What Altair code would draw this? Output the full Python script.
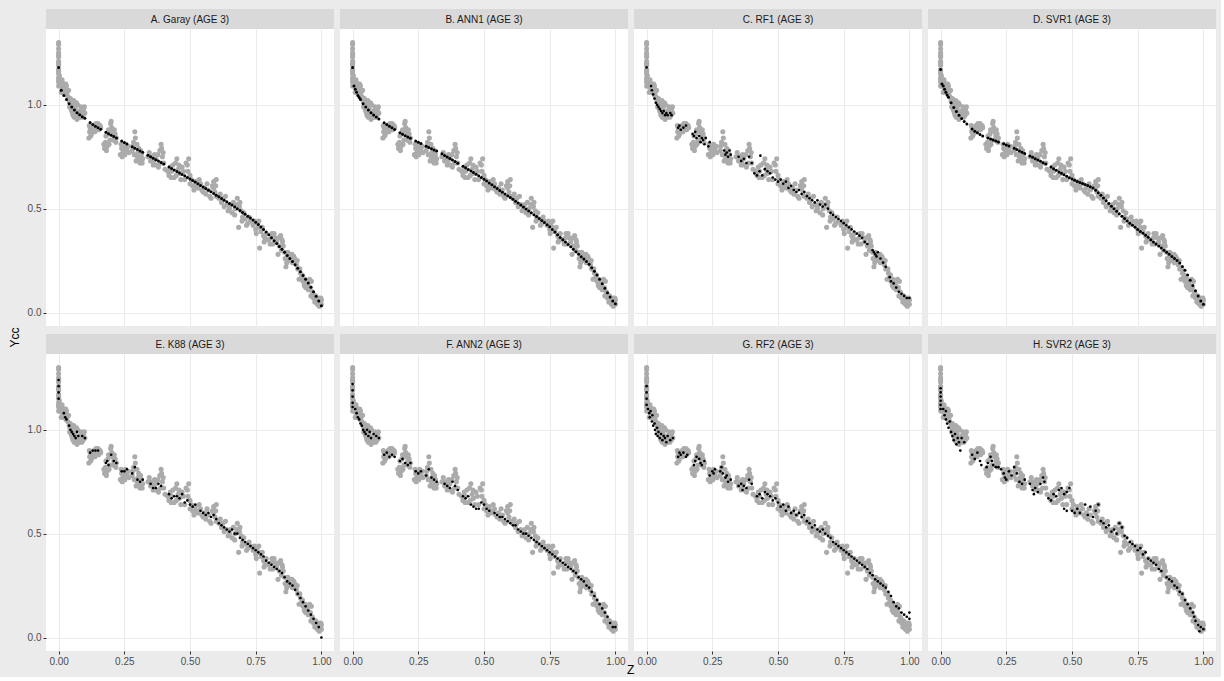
import altair as alt
import pandas as pd

PANELS = ["A. Garay (AGE 3)", "B. ANN1 (AGE 3)", "C. RF1 (AGE 3)", "D. SVR1 (AGE 3)",
          "E. K88 (AGE 3)", "F. ANN2 (AGE 3)", "G. RF2 (AGE 3)", "H. SVR2 (AGE 3)"]

# observed values (grey points, same in every panel)
obs_z = [0, 0, 0, 0, 0, 0, 0, 0, 0, 0, 0,
         0.005, 0.008, 0.012, 0.015, 0.018, 0.022, 0.025, 0.028, 0.03, 0.035,
         0.04, 0.042, 0.045, 0.05, 0.052, 0.055, 0.058, 0.06, 0.063, 0.066, 0.07, 0.072, 0.075, 0.08, 0.085, 0.09, 0.095, 0.10,
         0.115, 0.118, 0.12, 0.125, 0.13, 0.135, 0.14, 0.145, 0.15, 0.16,
         0.175, 0.178, 0.18, 0.185, 0.19, 0.195, 0.198, 0.20, 0.205, 0.21, 0.215, 0.22,
         0.235, 0.24, 0.245, 0.25, 0.255, 0.26, 0.265,
         0.28, 0.285, 0.29, 0.292, 0.295, 0.30, 0.305, 0.31, 0.315, 0.32,
         0.34, 0.35, 0.36, 0.365, 0.37, 0.38, 0.385, 0.39, 0.395, 0.40, 0.405,
         0.42, 0.425, 0.43, 0.44, 0.445, 0.45, 0.455, 0.46, 0.47, 0.48, 0.49, 0.495, 0.50, 0.50,
         0.51, 0.52, 0.53, 0.54, 0.55, 0.555, 0.56, 0.57, 0.58, 0.585, 0.59, 0.595, 0.60, 0.60,
         0.61, 0.62, 0.63, 0.635, 0.64, 0.65, 0.66, 0.665, 0.67, 0.68, 0.685, 0.69, 0.695, 0.70,
         0.71, 0.72, 0.73, 0.74, 0.75, 0.755, 0.76, 0.765, 0.77, 0.78, 0.785, 0.79, 0.80,
         0.81, 0.815, 0.82, 0.83, 0.835, 0.84, 0.845, 0.85, 0.855,
         0.86, 0.865, 0.87, 0.875, 0.88, 0.885, 0.89, 0.895, 0.90, 0.905, 0.91,
         0.915, 0.92, 0.925, 0.93, 0.935, 0.94, 0.945, 0.95, 0.955, 0.96, 0.965, 0.97, 0.975, 0.98, 0.985, 0.99, 0.995, 1.0, 1.0,
         0, 0, 0, 0, 0,
         0.003, 0.007, 0.01, 0.013, 0.02, 0.027, 0.032, 0.038,
         0.043, 0.048, 0.053, 0.062, 0.068, 0.078, 0.083, 0.088, 0.093, 0.098,
         0.117, 0.122, 0.128, 0.138, 0.142, 0.152, 0.158,
         0.172, 0.182, 0.188, 0.192, 0.202, 0.208, 0.212, 0.218,
         0.238, 0.242, 0.248, 0.252, 0.258, 0.268,
         0.282, 0.288, 0.298, 0.302, 0.308, 0.312, 0.318,
         0.345, 0.355, 0.362, 0.372, 0.378, 0.388, 0.392, 0.398,
         0.415, 0.428, 0.435, 0.448, 0.458, 0.465, 0.475, 0.485, 0.492, 0.505,
         0.515, 0.525, 0.535, 0.545, 0.565, 0.575, 0.59, 0.598,
         0.615, 0.625, 0.645, 0.655, 0.672, 0.678, 0.688, 0.698,
         0.705, 0.715, 0.725, 0.745, 0.752, 0.762, 0.775, 0.782, 0.795,
         0.805, 0.812, 0.825, 0.838, 0.848, 0.852,
         0.862, 0.868, 0.872, 0.878, 0.882, 0.888, 0.898, 0.908, 0.918,
         0.928, 0.938, 0.948, 0.958, 0.962, 0.968, 0.978, 0.988, 0.992, 0.998]
obs_y = [1.30, 1.27, 1.25, 1.23, 1.21, 1.19, 1.17, 1.15, 1.13, 1.11, 1.09,
         1.12, 1.09, 1.11, 1.08, 1.06, 1.10, 1.07, 1.05, 1.09, 1.04,
         1.02, 0.99, 1.03, 0.97, 1.00, 0.95, 1.02, 0.94, 0.98, 0.96, 0.93, 1.00, 0.95, 0.97, 0.99, 0.96, 0.98, 0.96,
         0.84, 0.87, 0.89, 0.86, 0.88, 0.90, 0.88, 0.89, 0.91, 0.89,
         0.79, 0.82, 0.85, 0.80, 0.88, 0.83, 0.91, 0.92, 0.87, 0.85, 0.86, 0.84,
         0.76, 0.79, 0.77, 0.80, 0.81, 0.78, 0.80,
         0.78, 0.82, 0.87, 0.84, 0.73, 0.75, 0.79, 0.72, 0.76, 0.74,
         0.75, 0.73, 0.71, 0.76, 0.74, 0.70, 0.78, 0.81, 0.75, 0.72, 0.69,
         0.66, 0.70, 0.68, 0.65, 0.72, 0.74, 0.69, 0.67, 0.70, 0.64, 0.71, 0.74, 0.66, 0.62,
         0.61, 0.63, 0.60, 0.62, 0.58, 0.60, 0.57, 0.59, 0.55, 0.61, 0.63, 0.58, 0.64, 0.56,
         0.55, 0.53, 0.51, 0.56, 0.52, 0.50, 0.48, 0.53, 0.47, 0.55, 0.41, 0.53, 0.49, 0.46,
         0.45, 0.43, 0.44, 0.42, 0.40, 0.43, 0.41, 0.31, 0.39, 0.37, 0.36, 0.38, 0.35,
         0.36, 0.33, 0.38, 0.34, 0.28, 0.32, 0.37, 0.35, 0.32,
         0.29, 0.22, 0.27, 0.25, 0.28, 0.26, 0.24, 0.27, 0.25, 0.23, 0.21,
         0.16, 0.19, 0.17, 0.15, 0.13, 0.12, 0.14, 0.11, 0.16, 0.08, 0.10, 0.07, 0.05, 0.06, 0.04, 0.07, 0.05, 0.06, 0.04,
         1.29, 1.24, 1.20, 1.16, 1.12,
         1.14, 1.10, 1.06, 1.12, 1.08, 1.10, 1.06, 1.07,
         1.01, 0.98, 0.96, 0.99, 1.01, 0.94, 0.96, 0.94, 0.95, 0.99,
         0.90, 0.85, 0.89, 0.87, 0.91, 0.88, 0.90,
         0.81, 0.78, 0.86, 0.81, 0.89, 0.83, 0.88, 0.82,
         0.81, 0.75, 0.78, 0.76, 0.79, 0.77,
         0.80, 0.76, 0.81, 0.77, 0.74, 0.78, 0.72,
         0.77, 0.75, 0.73, 0.71, 0.76, 0.72, 0.79, 0.77,
         0.68, 0.65, 0.71, 0.66, 0.71, 0.64, 0.68, 0.72, 0.68, 0.64,
         0.59, 0.61, 0.64, 0.59, 0.62, 0.56, 0.60, 0.61,
         0.57, 0.55, 0.49, 0.52, 0.50, 0.52, 0.51, 0.44,
         0.48, 0.42, 0.46, 0.44, 0.38, 0.44, 0.41, 0.34, 0.35,
         0.33, 0.38, 0.36, 0.36, 0.30, 0.34,
         0.26, 0.24, 0.29, 0.27, 0.25, 0.28, 0.26, 0.25, 0.21,
         0.18, 0.16, 0.13, 0.12, 0.15, 0.09, 0.08, 0.05, 0.03, 0.07]

# model predictions (black points)
garay_z = [0, 0.01, 0.02, 0.03, 0.04, 0.05, 0.06, 0.07, 0.08, 0.09, 0.10, 0.12, 0.13, 0.14, 0.15, 0.16, 0.18, 0.19, 0.20, 0.21, 0.22,
           0.24, 0.25, 0.26, 0.28, 0.29, 0.30, 0.31, 0.32, 0.34, 0.35, 0.36, 0.37, 0.38, 0.39, 0.40, 0.42, 0.43, 0.44, 0.45, 0.46,
           0.47, 0.48, 0.49, 0.50, 0.51, 0.52, 0.53, 0.54, 0.55, 0.56, 0.57, 0.58, 0.59, 0.60, 0.61, 0.62, 0.63, 0.64, 0.65, 0.66,
           0.67, 0.68, 0.69, 0.70, 0.71, 0.72, 0.73, 0.74, 0.75, 0.76, 0.77, 0.78, 0.79, 0.80, 0.81, 0.82, 0.83, 0.84, 0.85, 0.86,
           0.87, 0.88, 0.89, 0.90, 0.91, 0.92, 0.93, 0.94, 0.95, 0.96, 0.97, 0.98, 0.99, 1.0]
garay_y = [1.18, 1.07, 1.045, 1.025, 1.005, 0.99, 0.975, 0.962, 0.952, 0.943, 0.935, 0.915, 0.905, 0.897, 0.89, 0.882, 0.868, 0.861, 0.854, 0.847, 0.84,
           0.826, 0.818, 0.811, 0.798, 0.791, 0.785, 0.778, 0.771, 0.757, 0.75, 0.743, 0.736, 0.729, 0.722, 0.715, 0.70, 0.693, 0.686, 0.679, 0.672,
           0.665, 0.658, 0.65, 0.643, 0.635, 0.628, 0.62, 0.612, 0.604, 0.597, 0.589, 0.581, 0.573, 0.565, 0.557, 0.549, 0.541, 0.533, 0.525, 0.517,
           0.509, 0.50, 0.491, 0.482, 0.473, 0.464, 0.455, 0.445, 0.435, 0.424, 0.412, 0.40, 0.387, 0.374, 0.36, 0.346, 0.332, 0.318, 0.304, 0.29,
           0.275, 0.26, 0.245, 0.23, 0.213, 0.196, 0.178, 0.16, 0.142, 0.122, 0.10, 0.078, 0.055, 0.032]

ann1_z = [0, 0.005, 0.01, 0.015, 0.02, 0.025, 0.03, 0.04, 0.05, 0.06, 0.07, 0.08, 0.09, 0.10, 0.12, 0.13, 0.14, 0.15, 0.16, 0.18, 0.19,
          0.20, 0.21, 0.22, 0.24, 0.25, 0.26, 0.28, 0.29, 0.30, 0.31, 0.32, 0.34, 0.35, 0.36, 0.37, 0.38, 0.39, 0.40, 0.42, 0.43,
          0.44, 0.45, 0.46, 0.47, 0.48, 0.49, 0.50, 0.51, 0.52, 0.53, 0.54, 0.55, 0.56, 0.57, 0.58, 0.59, 0.60, 0.61, 0.62, 0.63,
          0.64, 0.65, 0.66, 0.67, 0.68, 0.69, 0.70, 0.71, 0.72, 0.73, 0.74, 0.75, 0.76, 0.77, 0.78, 0.79, 0.80, 0.81, 0.82, 0.83,
          0.84, 0.85, 0.86, 0.87, 0.88, 0.89, 0.90, 0.91, 0.92, 0.93, 0.94, 0.95, 0.96, 0.97, 0.98, 0.99, 1.0]
ann1_y = [1.18, 1.09, 1.075, 1.06, 1.045, 1.035, 1.025, 1.005, 0.99, 0.975, 0.962, 0.951, 0.941, 0.932, 0.914, 0.905, 0.897, 0.889, 0.881, 0.866, 0.858,
          0.851, 0.845, 0.839, 0.826, 0.82, 0.814, 0.801, 0.795, 0.789, 0.783, 0.777, 0.764, 0.756, 0.749, 0.742, 0.734, 0.727, 0.719, 0.704, 0.697,
          0.689, 0.681, 0.674, 0.666, 0.658, 0.65, 0.641, 0.633, 0.624, 0.615, 0.606, 0.597, 0.588, 0.579, 0.57, 0.562, 0.554, 0.545, 0.536, 0.527,
          0.517, 0.508, 0.498, 0.489, 0.48, 0.471, 0.462, 0.452, 0.443, 0.433, 0.423, 0.413, 0.40, 0.387, 0.374, 0.361, 0.35, 0.339, 0.328, 0.316,
          0.304, 0.293, 0.281, 0.269, 0.258, 0.245, 0.232, 0.216, 0.199, 0.18, 0.16, 0.139, 0.117, 0.095, 0.075, 0.055, 0.042]

rf1_z = [0, 0.017, 0.02, 0.025, 0.03, 0.035, 0.04, 0.045, 0.05, 0.055, 0.06, 0.065, 0.07, 0.075, 0.08, 0.09, 0.095,
         0.12, 0.125, 0.13, 0.14, 0.15,
         0.175, 0.18, 0.185, 0.19, 0.20, 0.205, 0.21, 0.215, 0.22, 0.225, 0.235, 0.24,
         0.295, 0.30, 0.305, 0.31, 0.315, 0.32,
         0.35, 0.36, 0.37, 0.38, 0.39, 0.40, 0.433,
         0.41, 0.42, 0.43, 0.44, 0.45, 0.46, 0.47,
         0.48, 0.49, 0.50, 0.51, 0.52, 0.53,
         0.54, 0.55, 0.56, 0.57, 0.58, 0.59, 0.60, 0.61,
         0.62, 0.63, 0.64, 0.65, 0.66, 0.67, 0.68, 0.69,
         0.70, 0.71, 0.72, 0.73, 0.74, 0.75, 0.76, 0.77, 0.78, 0.79,
         0.80, 0.81, 0.82, 0.83, 0.84,
         0.86, 0.865, 0.87, 0.875, 0.88, 0.89, 0.90, 0.91,
         0.925, 0.93, 0.94, 0.95, 0.96, 0.97, 0.98, 0.99, 1.0]
rf1_y = [1.18, 1.09, 1.07, 1.05, 1.03, 1.01, 1.00, 0.99, 0.98, 0.97, 0.96, 0.97, 0.95, 0.96, 0.95, 0.96, 0.95,
         0.89, 0.90, 0.88, 0.89, 0.90,
         0.86, 0.85, 0.87, 0.84, 0.85, 0.82, 0.84, 0.83, 0.81, 0.84, 0.80, 0.82,
         0.78, 0.76, 0.77, 0.75, 0.78, 0.76,
         0.75, 0.73, 0.74, 0.72, 0.75, 0.72, 0.755,
         0.67, 0.66, 0.68, 0.66, 0.69, 0.68, 0.67,
         0.65, 0.64, 0.63, 0.64, 0.62, 0.63,
         0.60, 0.61, 0.59, 0.58, 0.59, 0.57, 0.58, 0.56,
         0.55, 0.54, 0.53, 0.54, 0.52, 0.51, 0.52, 0.50,
         0.48, 0.47, 0.46, 0.45, 0.44, 0.43, 0.42, 0.41, 0.40, 0.39,
         0.38, 0.37, 0.36, 0.34, 0.33,
         0.30, 0.29, 0.28, 0.27, 0.29, 0.26, 0.24, 0.22,
         0.17, 0.15, 0.14, 0.12, 0.10, 0.09, 0.08, 0.07, 0.07]

svr1_z = [0, 0.005, 0.01, 0.015, 0.02, 0.025, 0.03, 0.04, 0.05, 0.06, 0.07, 0.08, 0.09, 0.10, 0.12, 0.13, 0.14, 0.15, 0.16, 0.18, 0.19,
          0.20, 0.21, 0.22, 0.24, 0.25, 0.26, 0.28, 0.29, 0.30, 0.31, 0.32, 0.34, 0.35, 0.36, 0.37, 0.38, 0.39, 0.40, 0.42, 0.43,
          0.44, 0.45, 0.46, 0.47, 0.48, 0.49, 0.50, 0.51, 0.52, 0.53, 0.54, 0.55, 0.56, 0.57, 0.58, 0.59, 0.60, 0.61, 0.62, 0.63,
          0.64, 0.65, 0.66, 0.67, 0.68, 0.69, 0.70, 0.71, 0.72, 0.73, 0.74, 0.75, 0.76, 0.77, 0.78, 0.79, 0.80, 0.81, 0.82, 0.83,
          0.84, 0.85, 0.86, 0.87, 0.88, 0.89, 0.90, 0.91, 0.92, 0.93, 0.94, 0.95, 0.96, 0.97, 0.98, 0.99, 1.0]
svr1_y = [1.17, 1.10, 1.09, 1.075, 1.06, 1.047, 1.036, 1.01, 0.987, 0.968, 0.95, 0.934, 0.92, 0.907, 0.883, 0.873, 0.865, 0.857, 0.85, 0.84, 0.835,
          0.83, 0.826, 0.821, 0.812, 0.807, 0.802, 0.791, 0.785, 0.778, 0.771, 0.765, 0.753, 0.747, 0.74, 0.734, 0.728, 0.721, 0.715, 0.70, 0.692,
          0.685, 0.677, 0.67, 0.663, 0.656, 0.649, 0.643, 0.637, 0.631, 0.626, 0.621, 0.616, 0.611, 0.606, 0.60, 0.589, 0.577, 0.564, 0.551, 0.538,
          0.525, 0.512, 0.50, 0.488, 0.476, 0.464, 0.452, 0.441, 0.43, 0.42, 0.41, 0.40, 0.39, 0.381, 0.372, 0.362, 0.35, 0.34, 0.33, 0.32,
          0.31, 0.30, 0.29, 0.28, 0.27, 0.26, 0.25, 0.238, 0.222, 0.203, 0.18, 0.155, 0.13, 0.105, 0.08, 0.055, 0.04]

k88_z = [0, 0, 0, 0, 0.02, 0.025, 0.03, 0.04, 0.045, 0.05, 0.055, 0.06, 0.065, 0.07, 0.075, 0.09, 0.10,
         0.12, 0.13, 0.14, 0.15,
         0.18, 0.185, 0.19, 0.20, 0.21, 0.22,
         0.24, 0.25, 0.26,
         0.28, 0.29, 0.30, 0.31, 0.32,
         0.35, 0.36, 0.37, 0.38, 0.39,
         0.42, 0.43, 0.44, 0.45, 0.46, 0.47,
         0.48, 0.49, 0.50, 0.51, 0.52,
         0.54, 0.55, 0.56, 0.57, 0.58, 0.59, 0.60,
         0.61, 0.62, 0.63, 0.64, 0.65, 0.66, 0.67, 0.68, 0.69, 0.70, 0.71, 0.72, 0.73, 0.74, 0.75, 0.76, 0.77, 0.78, 0.79, 0.80,
         0.81, 0.82, 0.83, 0.84, 0.85, 0.86, 0.87, 0.88, 0.89, 0.90, 0.91, 0.92, 0.93, 0.94, 0.95, 0.96, 0.97, 0.98, 0.99, 1.0]
k88_y = [1.24, 1.21, 1.18, 1.15, 1.08, 1.06, 1.05, 1.02, 1.00, 0.99, 0.98, 0.97, 0.96, 0.99, 0.97, 0.97, 0.96,
         0.89, 0.90, 0.90, 0.90,
         0.84, 0.85, 0.83, 0.88, 0.85, 0.84,
         0.80, 0.80, 0.81,
         0.79, 0.82, 0.76, 0.75, 0.76,
         0.74, 0.72, 0.72, 0.74, 0.73,
         0.69, 0.67, 0.68, 0.68, 0.67, 0.69,
         0.65, 0.66, 0.64, 0.63, 0.64,
         0.61, 0.60, 0.59, 0.60, 0.58, 0.59, 0.57,
         0.55, 0.54, 0.53, 0.52, 0.51, 0.52, 0.50, 0.50, 0.48, 0.47, 0.46, 0.45, 0.44, 0.43, 0.42, 0.41, 0.40, 0.39, 0.37, 0.36,
         0.35, 0.34, 0.33, 0.32, 0.31, 0.29, 0.27, 0.26, 0.25, 0.23, 0.21, 0.19, 0.17, 0.15, 0.13, 0.11, 0.09, 0.07, 0.05, 0.00]

ann2_z = [0, 0, 0, 0, 0, 0.01, 0.015, 0.02, 0.025, 0.03, 0.035, 0.04, 0.045, 0.05, 0.055, 0.06, 0.065, 0.07, 0.08, 0.09, 0.10,
          0.12, 0.13, 0.14, 0.15, 0.16,
          0.18, 0.19, 0.20, 0.21, 0.22,
          0.24, 0.25, 0.26, 0.28, 0.29, 0.30, 0.31, 0.32,
          0.35, 0.36, 0.37, 0.38, 0.39, 0.40,
          0.42, 0.43, 0.44, 0.45, 0.46, 0.47, 0.48, 0.49, 0.50, 0.51, 0.52,
          0.54, 0.55, 0.56, 0.57, 0.58, 0.59, 0.60, 0.61, 0.62, 0.63, 0.64, 0.65, 0.66, 0.67, 0.68, 0.69, 0.70,
          0.71, 0.72, 0.73, 0.74, 0.75, 0.76, 0.77, 0.78, 0.79, 0.80, 0.81, 0.82, 0.83, 0.84, 0.85,
          0.86, 0.87, 0.88, 0.89, 0.90, 0.91, 0.92, 0.93, 0.94, 0.95, 0.96, 0.97, 0.98, 0.99, 1.0]
ann2_y = [1.22, 1.19, 1.16, 1.13, 1.11, 1.10, 1.08, 1.06, 1.05, 1.03, 1.02, 1.00, 0.99, 0.98, 1.00, 0.97, 0.99, 0.96, 0.98, 0.97, 0.96,
          0.88, 0.89, 0.87, 0.88, 0.87,
          0.85, 0.86, 0.84, 0.83, 0.84,
          0.80, 0.79, 0.80, 0.78, 0.81, 0.77, 0.76, 0.75,
          0.74, 0.73, 0.72, 0.75, 0.73, 0.71,
          0.68, 0.67, 0.68, 0.64, 0.63, 0.62, 0.62, 0.65, 0.64, 0.62, 0.61,
          0.60, 0.59, 0.58, 0.58, 0.57, 0.56, 0.55, 0.54, 0.54, 0.52, 0.51, 0.50, 0.50, 0.49, 0.48, 0.47, 0.46,
          0.45, 0.44, 0.43, 0.42, 0.41, 0.40, 0.39, 0.38, 0.37, 0.36, 0.35, 0.34, 0.33, 0.32, 0.31,
          0.29, 0.28, 0.27, 0.25, 0.24, 0.22, 0.20, 0.18, 0.16, 0.14, 0.12, 0.10, 0.07, 0.05, 0.05]

rf2_z = [0, 0, 0, 0, 0.005, 0.01, 0.012, 0.015, 0.02, 0.022, 0.025, 0.03, 0.032, 0.035, 0.04, 0.042, 0.045, 0.05, 0.055, 0.06, 0.065, 0.07, 0.075, 0.08, 0.09, 0.10,
         0.12, 0.125, 0.13, 0.14, 0.15, 0.155,
         0.18, 0.185, 0.19, 0.20, 0.205, 0.21, 0.22,
         0.24, 0.25, 0.255, 0.26,
         0.28, 0.285, 0.29, 0.30, 0.305, 0.31, 0.32,
         0.35, 0.36, 0.365, 0.37, 0.38, 0.39, 0.40,
         0.42, 0.43, 0.44, 0.45, 0.46, 0.47, 0.48, 0.49, 0.50,
         0.51, 0.52, 0.53, 0.54, 0.55, 0.56, 0.57, 0.58, 0.59, 0.60,
         0.61, 0.62, 0.63, 0.64, 0.65, 0.66, 0.67, 0.68, 0.69, 0.70,
         0.71, 0.72, 0.73, 0.74, 0.75, 0.76, 0.77, 0.78, 0.79, 0.80,
         0.81, 0.82, 0.83, 0.84, 0.85, 0.86, 0.87, 0.88, 0.89, 0.90, 0.91,
         0.92, 0.93, 0.94, 0.95, 0.96, 0.97, 0.98, 0.99, 1.0, 1.0]
rf2_y = [1.21, 1.18, 1.15, 1.12, 1.10, 1.08, 1.06, 1.09, 1.04, 1.07, 1.02, 1.03, 1.00, 0.98, 1.01, 0.97, 0.99, 0.96, 0.98, 0.95, 0.97, 0.96, 0.94, 0.97, 0.95, 0.96,
         0.87, 0.89, 0.88, 0.89, 0.87, 0.88,
         0.83, 0.85, 0.87, 0.86, 0.84, 0.83, 0.85,
         0.78, 0.80, 0.79, 0.81,
         0.80, 0.82, 0.79, 0.77, 0.78, 0.75, 0.76,
         0.73, 0.74, 0.71, 0.73, 0.72, 0.76, 0.74,
         0.68, 0.69, 0.67, 0.70, 0.69, 0.68, 0.66, 0.67, 0.65,
         0.63, 0.64, 0.61, 0.63, 0.60, 0.61, 0.59, 0.60, 0.58, 0.59,
         0.56, 0.55, 0.53, 0.54, 0.52, 0.51, 0.52, 0.50, 0.49, 0.48,
         0.46, 0.45, 0.44, 0.43, 0.42, 0.41, 0.40, 0.39, 0.38, 0.37,
         0.36, 0.35, 0.34, 0.33, 0.31, 0.30, 0.28, 0.27, 0.26, 0.25, 0.24,
         0.22, 0.20, 0.17, 0.15, 0.14, 0.12, 0.11, 0.10, 0.12, 0.09]

svr2_z = [0, 0, 0, 0, 0, 0,
          0.01, 0.015, 0.02, 0.02, 0.025, 0.03, 0.035, 0.04, 0.045, 0.05, 0.055, 0.06, 0.065, 0.07, 0.075, 0.08, 0.09,
          0.12, 0.13, 0.14, 0.15, 0.155,
          0.175, 0.18, 0.19, 0.195, 0.20, 0.21, 0.22, 0.23,
          0.24, 0.245, 0.25, 0.26, 0.27, 0.28, 0.29, 0.30, 0.31, 0.32,
          0.34, 0.35, 0.355, 0.36, 0.37, 0.38, 0.39, 0.395,
          0.41, 0.42, 0.43, 0.44, 0.45, 0.46, 0.47, 0.48, 0.49,
          0.47, 0.48, 0.50, 0.51, 0.52, 0.53, 0.55, 0.56, 0.57, 0.58, 0.59, 0.60,
          0.61, 0.62, 0.63, 0.64, 0.65, 0.66, 0.67, 0.68, 0.69, 0.70, 0.71,
          0.72, 0.73, 0.74, 0.75, 0.76, 0.77, 0.78, 0.79, 0.80, 0.81, 0.82, 0.83, 0.84,
          0.86, 0.87, 0.88, 0.89, 0.90, 0.91, 0.92, 0.93, 0.94, 0.95, 0.96, 0.965, 0.97, 0.98, 0.985, 0.99, 1.0]
svr2_y = [1.20, 1.18, 1.16, 1.14, 1.12, 1.10,
          1.10, 1.07, 1.05, 1.09, 1.03, 1.01, 1.04, 0.99, 0.97, 0.95, 0.98, 0.93, 0.96, 0.94, 0.90, 0.96, 0.94,
          0.88, 0.86, 0.89, 0.85, 0.83,
          0.82, 0.84, 0.87, 0.85, 0.83, 0.82, 0.82, 0.81,
          0.79, 0.77, 0.76, 0.80, 0.78, 0.82, 0.79, 0.75, 0.74, 0.76,
          0.74, 0.71, 0.69, 0.72, 0.70, 0.74, 0.77, 0.75,
          0.67, 0.66, 0.69, 0.68, 0.71, 0.72, 0.69, 0.70, 0.72,
          0.62, 0.61, 0.61, 0.60, 0.62, 0.60, 0.64, 0.59, 0.63, 0.58, 0.61, 0.64,
          0.56, 0.55, 0.53, 0.54, 0.51, 0.52, 0.50, 0.55, 0.53, 0.49, 0.48,
          0.46, 0.45, 0.44, 0.42, 0.43, 0.40, 0.41, 0.38, 0.37, 0.36, 0.35, 0.33, 0.32,
          0.29, 0.28, 0.27, 0.25, 0.24, 0.22, 0.21, 0.18, 0.16, 0.14, 0.12, 0.10, 0.08, 0.06, 0.03, 0.05, 0.04]

PRED = [(garay_z, garay_y), (ann1_z, ann1_y), (rf1_z, rf1_y), (svr1_z, svr1_y),
        (k88_z, k88_y), (ann2_z, ann2_y), (rf2_z, rf2_y), (svr2_z, svr2_y)]
SMOOTH = {0, 1, 3}

X_TICKS = [0, 0.25, 0.5, 0.75, 1.0]
Y_TICKS = [0, 0.5, 1.0]

W, H, STRIP = 288, 297, 20
FONT = "Liberation Sans"
xs = alt.Scale(domain=[-0.048, 1.048], nice=False, zero=False)
ys = alt.Scale(domain=[-0.065, 1.365], nice=False, zero=False)

obs_df = pd.DataFrame({"Z": obs_z, "Ycc": obs_y})


def panel(i):
    row, col = divmod(i, 4)
    show_x = row == 1
    show_y = col == 0
    xaxis = alt.Axis(values=X_TICKS, format=".2f", grid=True, gridColor="#EBEBEB", gridWidth=1.1,
                     labels=show_x, ticks=show_x, domain=False, title=None,
                     tickColor="#333333", tickSize=3, labelColor="#4D4D4D", labelFontSize=10,
                     labelFont=FONT, labelPadding=2)
    yaxis = alt.Axis(values=Y_TICKS, format=".1f", grid=True, gridColor="#EBEBEB", gridWidth=1.1,
                     labels=show_y, ticks=show_y, domain=False, title=None,
                     tickColor="#333333", tickSize=3, labelColor="#4D4D4D", labelFontSize=10,
                     labelFont=FONT, labelPadding=2)
    pz, py = PRED[i]
    pred_df = pd.DataFrame({"Z": pz, "Ycc": py})
    strip_df = pd.DataFrame({"label": [PANELS[i]]})

    strip = alt.Chart(strip_df).mark_rect(color="#D9D9D9").encode(
        x=alt.value(0), x2=alt.value(W), y=alt.value(-STRIP), y2=alt.value(0))
    strip_text = alt.Chart(strip_df).mark_text(
        font=FONT, fontSize=10, color="#1A1A1A", baseline="middle", align="center").encode(
        x=alt.value(W / 2), y=alt.value(-STRIP / 2 + 0.5), text="label:N")
    grey = alt.Chart(obs_df).mark_circle(color="#ABABAB", opacity=1, size=26).encode(
        x=alt.X("Z:Q", scale=xs, axis=xaxis), y=alt.Y("Ycc:Q", scale=ys, axis=yaxis))
    black = alt.Chart(pred_df).mark_circle(color="#000000", opacity=1,
                                           size=9 if i in SMOOTH else 7).encode(
        x=alt.X("Z:Q", scale=xs, axis=xaxis), y=alt.Y("Ycc:Q", scale=ys, axis=yaxis))
    return alt.layer(grey, black, strip, strip_text).properties(width=W, height=H)


row1 = alt.hconcat(*[panel(i) for i in range(4)], spacing=6)
row2 = alt.hconcat(*[panel(i) for i in range(4, 8)], spacing=6)
grid = alt.vconcat(row1, row2, spacing=8)
with_y = alt.hconcat(grid, title=alt.TitleParams(
    "Ycc", orient="left", anchor="middle", font=FONT, fontSize=12, fontWeight="normal",
    color="#000000", offset=15, dy=10))
chart = alt.vconcat(with_y, title=alt.TitleParams(
    "Z", orient="bottom", anchor="middle", font=FONT, fontSize=12, fontWeight="normal",
    color="#000000", offset=-1, dx=18)).properties(
    background="#EBEBEB", padding={"left": 9, "top": 9, "right": 5, "bottom": 1}
).configure_view(fill="white", stroke=None).configure_concat(spacing=0)

chart.save("out.html", embed_options={"renderer": "svg", "actions": False})
